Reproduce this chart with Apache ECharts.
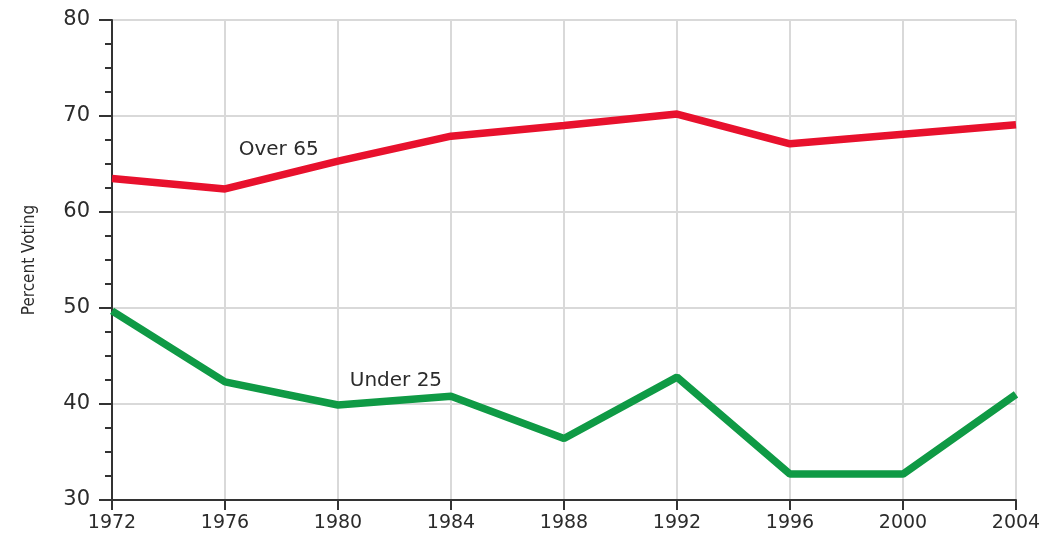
<!DOCTYPE html>
<html>
<head>
<meta charset="utf-8">
<script src="https://cdn.jsdelivr.net/npm/echarts@6/dist/echarts.min.js"></script>
<style>
  html, body { margin: 0; padding: 0; background: #fff; }
  #chart { width: 1053px; height: 538px; }
</style>
</head>
<body>
<div id="chart"></div>
<script>
// 연도 (x축)
const years = [1972, 1976, 1980, 1984, 1988, 1992, 1996, 2000, 2004];
// 65세 이상 투표율
const over65 = [63.5, 62.4, 65.3, 67.9, 69.0, 70.2, 67.1, 68.1, 69.1];
// 25세 미만 투표율
const under25 = [49.7, 42.3, 39.9, 40.8, 36.4, 42.8, 32.7, 32.7, 41.0];
// 라벨 위치 (x: 연도, y: 값)
const over65Label = [1977.9, 66.5];
const under25Label = [1982.05, 42.4];

const chart = echarts.init(document.getElementById("chart"));

const font = "'DejaVu Sans', sans-serif";
const textColor = "#2b2b2b";

const option = {
  animation: false,
  grid: { left: 112, right: 37, top: 20, bottom: 38 },
  xAxis: {
    type: "value",
    min: 1972,
    max: 2004,
    interval: 4,
    axisLine: { show: true, lineStyle: { color: "#333", width: 2 } },
    axisTick: { show: true, inside: false, length: 10, lineStyle: { color: "#333", width: 2 } },
    axisLabel: { color: textColor, fontSize: 19, fontFamily: font, margin: 14, formatter: (v) => String(v) },
    splitLine: { show: true, lineStyle: { color: "#d9d9d9", width: 2 } },
  },
  yAxis: {
    type: "value",
    min: 30,
    max: 80,
    interval: 10,
    name: "Percent Voting",
    nameLocation: "middle",
    nameGap: 74,
    nameTextStyle: { color: textColor, fontSize: 17, fontFamily: "'Liberation Sans Narrow', 'DejaVu Sans Condensed', sans-serif" },
    axisLine: { show: true, lineStyle: { color: "#333", width: 2 } },
    axisTick: { show: true, length: 13, lineStyle: { color: "#333", width: 2 } },
    minorTick: { show: true, splitNumber: 4, length: 7, lineStyle: { color: "#333", width: 2 } },
    axisLabel: { color: textColor, fontSize: 21, fontFamily: font, margin: 22 },
    splitLine: { show: true, lineStyle: { color: "#d9d9d9", width: 2 } },
  },
  series: [
    {
      name: "Over 65",
      type: "line",
      data: years.map((y, i) => [y, over65[i]]),
      symbol: "none",
      lineStyle: { color: "#e8112d", width: 7.5 },
      markPoint: {
        symbol: "circle",
        symbolSize: 0,
        data: [{ coord: over65Label, label: { show: true, position: "inside", formatter: "Over 65", color: textColor, fontSize: 20, fontFamily: font } }],
      },
    },
    {
      name: "Under 25",
      type: "line",
      data: years.map((y, i) => [y, under25[i]]),
      symbol: "none",
      lineStyle: { color: "#0f9a45", width: 7.5 },
      markPoint: {
        symbol: "circle",
        symbolSize: 0,
        data: [{ coord: under25Label, label: { show: true, position: "inside", formatter: "Under 25", color: textColor, fontSize: 20, fontFamily: font } }],
      },
    },
  ],
};

chart.setOption(option);
</script>
</body>
</html>
